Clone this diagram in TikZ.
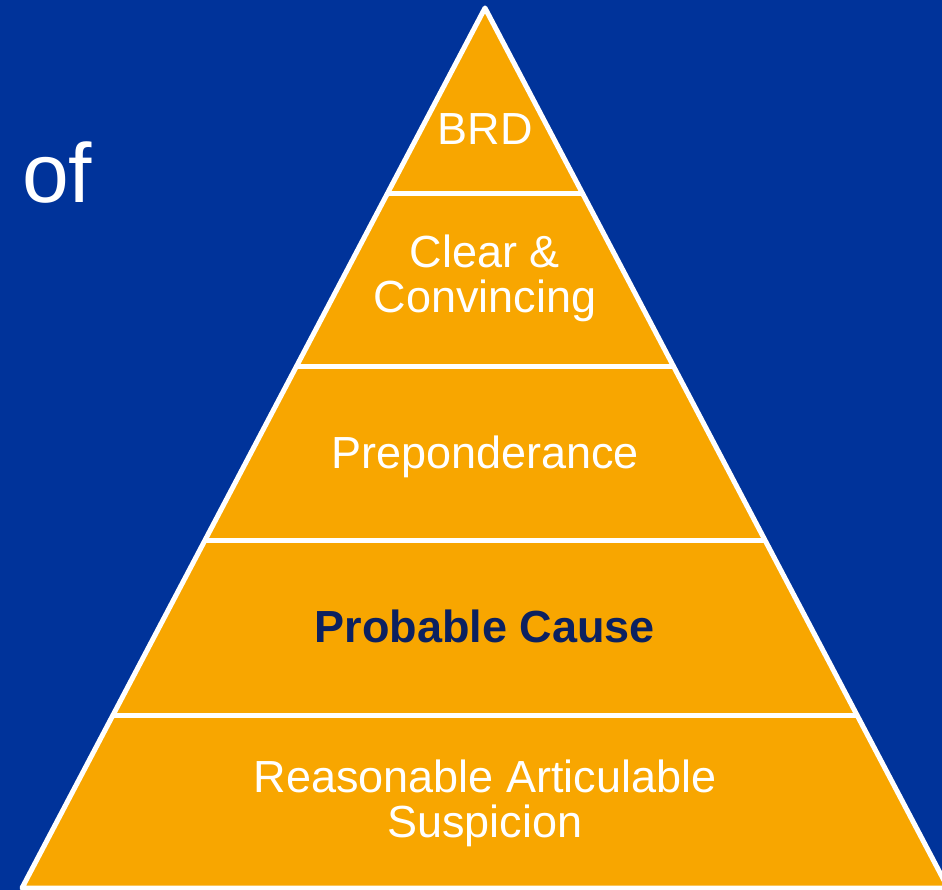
\documentclass[tikz,border=0pt]{standalone}
\usepackage{fontspec}
\setmainfont{Liberation Sans}
\usetikzlibrary{calc}
\definecolor{deepblue}{HTML}{00339A}
\definecolor{amber}{HTML}{F8A600}
\definecolor{navy}{HTML}{0C2160}
\begin{document}
\begin{tikzpicture}[x=1pt,y=-1pt,
  level/.style={text=white,font=\fontsize{45}{45}\selectfont,align=center,anchor=base,inner sep=0pt},
  edge/.style={draw=white,line width=5pt,line join=round}]
  % background
  \fill[deepblue] (0,0) rectangle (942,890);
  \useasboundingbox (0,0) rectangle (942,890);
  % pyramid corners
  \coordinate (apex) at (485,8);
  \coordinate (bl) at (22,888);
  \coordinate (br) at (948,888);
  \fill[amber] (apex) -- (bl) -- (br) -- cycle;
  % band dividers
  \foreach \y/\n in {194/a,367/b,541/c,715/d}{
    \pgfmathsetmacro{\t}{(\y-8)/880}
    \coordinate (l\n) at ($(apex)!\t!(bl)$);
    \coordinate (r\n) at ($(apex)!\t!(br)$);
    \draw[edge] (l\n) -- (r\n);
  }
  \draw[edge] (apex) -- (bl) -- (br) -- cycle;
  % labels (base anchor sits on the last line)
  \node[level] (brd) at (485,145) {BRD};
  \node[level] (clear) at (485,313) {Clear \&\\Convincing};
  \node[level] (prep) at (485,468) {Preponderance};
  \node[level,text=navy,font=\fontsize{45}{45}\selectfont\bfseries] (prob) at (485,642) {Probable Cause};
  \node[level] (reas) at (485,837) {Reasonable Articulable\\Suspicion};
  \node[text=white,font=\fontsize{84}{90}\selectfont,anchor=base west,inner sep=0pt] (of) at (22,203) {of};
\end{tikzpicture}
\end{document}
